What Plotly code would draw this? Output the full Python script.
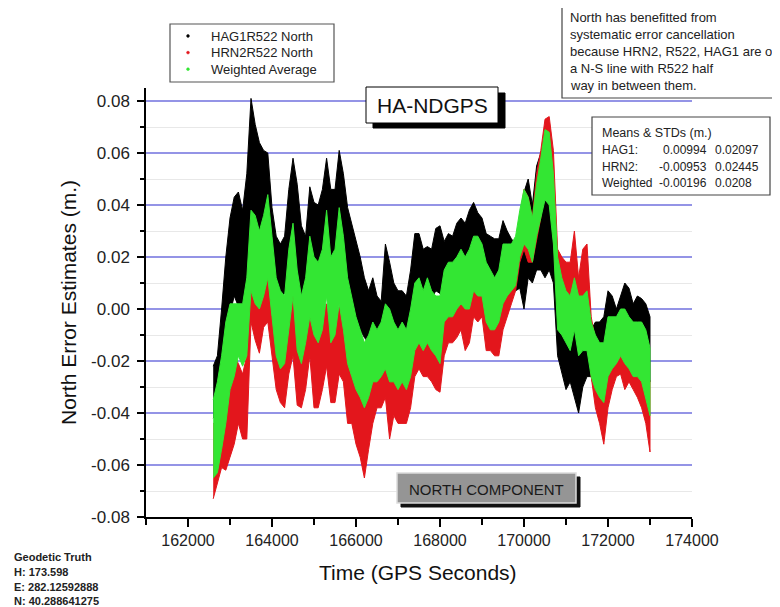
import plotly.graph_objects as go

# ---------------- data ----------------
TIMES = list(range(162600, 173100, 100))  # GPS seconds, 105 samples

HAG1_HI = [-0.022,-0.018,0.000,0.020,0.035,0.043,0.045,0.038,0.052,0.081,
           0.071,0.064,0.061,0.060,0.039,0.028,0.025,0.028,0.046,0.058,
           0.048,0.032,0.028,0.047,0.041,0.040,0.046,0.058,0.046,0.046,
           0.061,0.052,0.039,0.033,0.027,0.020,0.012,0.007,0.012,0.005,
           0.003,0.025,0.018,0.010,0.007,0.007,0.005,0.015,0.029,0.029,
           0.023,0.024,0.023,0.031,0.032,0.026,0.029,0.028,0.033,0.035,
           0.033,0.038,0.041,0.037,0.035,0.029,0.028,0.027,0.027,0.034,
           0.030,0.027,0.025,0.030,0.045,0.050,0.040,0.055,0.060,0.065,
           0.060,0.045,0.020,0.005,-0.005,-0.005,-0.003,-0.005,-0.010,-0.012,
           -0.008,-0.005,-0.005,-0.003,0.007,0.005,0.000,0.005,0.010,0.008,
           0.002,0.005,0.004,0.002,-0.003]
HAG1_LO = [-0.042,-0.040,-0.030,-0.012,-0.002,0.005,0.001,0.000,0.012,0.035,
           0.030,0.020,0.012,0.020,0.010,0.004,0.004,0.006,0.012,0.018,
           0.007,0.000,0.004,0.010,0.007,0.006,0.012,0.018,0.006,0.012,
           0.020,0.012,0.005,0.001,-0.005,-0.008,-0.011,-0.013,-0.011,-0.016,
           -0.013,-0.005,-0.008,-0.011,-0.013,-0.011,-0.011,-0.008,-0.003,0.001,
           0.002,0.002,0.004,0.007,0.006,0.004,0.007,0.009,0.012,0.012,
           0.015,0.012,0.015,0.017,0.012,0.007,0.009,0.012,0.012,0.015,
           0.012,0.012,0.007,0.008,0.000,0.012,0.010,0.015,0.015,0.012,
           0.015,0.010,-0.018,-0.025,-0.031,-0.028,-0.034,-0.040,-0.030,-0.026,
           -0.026,-0.033,-0.021,-0.019,-0.018,-0.018,-0.018,-0.013,-0.013,-0.016,
           -0.018,-0.016,-0.018,-0.021,-0.028]

HRN2_HI = [-0.044,-0.044,-0.031,-0.026,-0.018,-0.018,-0.021,-0.025,-0.018,0.023,
           0.020,0.007,0.014,0.020,0.007,-0.005,-0.012,-0.015,0.001,0.007,
           -0.005,-0.011,-0.005,0.005,0.001,0.001,-0.003,0.002,-0.008,-0.005,
           0.001,-0.005,-0.016,-0.018,-0.021,-0.026,-0.028,-0.026,-0.018,-0.022,
           -0.015,-0.010,-0.015,-0.018,-0.021,-0.018,-0.021,-0.015,-0.008,-0.005,
           -0.008,-0.008,-0.013,-0.015,-0.015,0.000,0.005,0.002,0.005,0.005,
           0.002,0.002,0.012,0.012,0.010,0.002,0.002,0.000,0.002,0.012,
           0.018,0.020,0.023,0.035,0.046,0.043,0.035,0.052,0.061,0.073,
           0.074,0.061,0.023,0.020,0.018,0.018,0.030,0.012,0.023,0.025,
           -0.003,-0.012,-0.018,-0.025,-0.018,-0.013,-0.008,-0.005,-0.013,-0.015,
           -0.015,-0.018,-0.018,-0.021,-0.028]
HRN2_LO = [-0.073,-0.067,-0.061,-0.062,-0.057,-0.052,-0.044,-0.050,-0.050,-0.005,
           -0.012,-0.017,-0.007,-0.005,-0.018,-0.031,-0.036,-0.038,-0.025,-0.018,
           -0.037,-0.038,-0.031,-0.018,-0.038,-0.038,-0.031,-0.022,-0.036,-0.036,
           -0.025,-0.028,-0.044,-0.044,-0.052,-0.057,-0.065,-0.054,-0.044,-0.038,
           -0.038,-0.034,-0.050,-0.041,-0.044,-0.044,-0.044,-0.038,-0.026,-0.023,
           -0.026,-0.026,-0.028,-0.031,-0.032,-0.018,-0.013,-0.013,-0.011,-0.008,
           -0.016,-0.013,-0.003,-0.005,-0.003,-0.016,-0.016,-0.018,-0.018,-0.008,
           -0.003,0.002,0.007,0.018,0.023,0.018,0.018,0.027,0.035,0.050,
           0.046,0.028,0.001,0.005,0.002,-0.005,0.005,-0.005,0.002,-0.005,
           -0.026,-0.038,-0.044,-0.052,-0.038,-0.031,-0.026,-0.025,-0.031,-0.028,
           -0.031,-0.034,-0.038,-0.044,-0.055]

WAVG_HI = [-0.035,-0.028,-0.018,-0.005,0.002,0.002,0.002,0.002,0.012,0.038,
           0.036,0.030,0.036,0.044,0.028,0.012,0.007,0.005,0.023,0.033,
           0.015,0.005,0.012,0.028,0.020,0.018,0.023,0.038,0.020,0.023,
           0.039,0.028,0.012,0.005,-0.003,-0.008,-0.013,-0.010,-0.005,-0.008,
           -0.005,0.002,0.000,-0.005,-0.008,-0.005,-0.008,0.000,0.010,0.012,
           0.007,0.012,0.007,0.005,0.005,0.015,0.018,0.018,0.020,0.023,
           0.020,0.023,0.028,0.028,0.025,0.018,0.015,0.012,0.015,0.025,
           0.025,0.025,0.028,0.038,0.046,0.043,0.035,0.048,0.058,0.069,
           0.068,0.052,0.020,0.012,0.007,0.005,0.012,0.005,0.005,0.007,
           -0.005,-0.010,-0.013,-0.013,-0.003,-0.003,-0.003,0.000,0.000,-0.003,
           -0.005,-0.005,-0.005,-0.008,-0.015]
WAVG_LO = [-0.065,-0.063,-0.054,-0.044,-0.031,-0.026,-0.018,-0.022,-0.018,0.007,
           0.002,0.000,0.005,0.012,-0.003,-0.018,-0.023,-0.021,-0.008,0.005,
           -0.016,-0.021,-0.013,-0.003,-0.010,-0.013,-0.008,0.005,-0.013,-0.010,
           0.002,-0.008,-0.021,-0.026,-0.031,-0.034,-0.038,-0.034,-0.028,-0.028,
           -0.026,-0.023,-0.028,-0.028,-0.031,-0.028,-0.031,-0.026,-0.016,-0.013,
           -0.016,-0.013,-0.016,-0.018,-0.021,-0.005,-0.003,-0.003,0.000,0.002,
           0.000,0.000,0.007,0.005,0.005,-0.005,-0.008,-0.008,-0.005,0.002,
           0.005,0.007,0.009,0.020,0.025,0.023,0.018,0.028,0.035,0.042,
           0.040,0.025,-0.008,-0.010,-0.013,-0.016,-0.008,-0.018,-0.016,-0.016,
           -0.026,-0.031,-0.034,-0.036,-0.026,-0.023,-0.021,-0.018,-0.021,-0.023,
           -0.026,-0.026,-0.028,-0.034,-0.041]

SERIES_NAMES = ["HAG1R522 North", "HRN2R522 North", "Weighted Average"]
SERIES_COLORS = ["#000000", "#e3161c", "#33e633"]

X_TICKS = [162000, 164000, 166000, 168000, 170000, 172000, 174000]
X_MINOR = [161000, 163000, 165000, 167000, 169000, 171000, 173000]
Y_TICKS = [-0.08, -0.06, -0.04, -0.02, 0.00, 0.02, 0.04, 0.06, 0.08]
Y_MINOR = [-0.07, -0.05, -0.03, -0.01, 0.01, 0.03, 0.05, 0.07]
Y_LABELS = ["-0.08", "-0.06", "-0.04", "-0.02", "0.00", "0.02", "0.04", "0.06", "0.08"]

NOTE_LINES = ["North has benefitted from", "systematic error cancellation",
              "because HRN2, R522, HAG1 are on", "a N-S line with R522 half",
              "way in between them."]
STATS_ROWS = [("HAG1:", "0.00994", "0.02097"),
              ("HRN2:", "-0.00953", "0.02445"),
              ("Weighted", "-0.00196", "0.0208")]
TRUTH_LINES = ["Geodetic Truth", "H: 173.598", "E: 282.12592888", "N: 40.288641275"]

# ---------------- layout helpers (page pixel -> paper) ----------------
OFF = 8                      # page body margin that shifts the figure
PAGE_W, PAGE_H = 780, 607
W, H = PAGE_W - OFF, PAGE_H - OFF
PLOT_L, PLOT_R, PLOT_T, PLOT_B = 146, 692, 88, 517   # page pixels
L, T = PLOT_L - OFF, PLOT_T - OFF
R, B = PAGE_W - PLOT_R, PAGE_H - PLOT_B
PW, PH = W - L - R, H - T - B


def PX(px):
    return (px - PLOT_L) / PW


def PY(py):
    return (PLOT_B - py) / PH


FONT = "Liberation Sans, Arial, sans-serif"

fig = go.Figure()

bands = [(HAG1_HI, HAG1_LO), (HRN2_HI, HRN2_LO), (WAVG_HI, WAVG_LO)]
for (hi, lo), name, col in zip(bands, SERIES_NAMES, SERIES_COLORS):
    fig.add_trace(go.Scatter(
        x=TIMES + TIMES[::-1], y=hi + lo[::-1], fill="toself", fillcolor=col,
        mode="lines", line=dict(color=col, width=1), name=name,
        showlegend=False, hoverinfo="skip"))

axis_common = dict(showline=True, linecolor="black", linewidth=1.5,
                   ticks="outside", tickcolor="black", tickwidth=1.5,
                   mirror=False, zeroline=False)

fig.update_xaxes(range=[161000, 174000], tickvals=X_TICKS,
                 ticktext=[str(v) for v in X_TICKS], ticklen=8, showgrid=False,
                 tickfont=dict(size=16, color="#222"),
                 minor=dict(tickvals=X_MINOR, ticks="outside", ticklen=6,
                            tickcolor="black", tickwidth=1.5, showgrid=False),
                 **axis_common)
fig.update_yaxes(range=[-0.08, 0.085], tickvals=Y_TICKS, ticktext=Y_LABELS,
                 ticklen=7, showgrid=True, gridcolor="#9494e6", gridwidth=1.5,
                 tickfont=dict(size=17, color="#222"), ticklabelstandoff=4,
                 minor=dict(tickvals=Y_MINOR, ticks="outside", ticklen=4,
                            tickcolor="black", tickwidth=1.5, showgrid=True,
                            gridcolor="#e8e8e8", gridwidth=1),
                 **axis_common)

shapes = []
annotations = []


def rect(x0, y0, x1, y1, fill="white", line="black", lw=1):
    shapes.append(dict(type="rect", xref="paper", yref="paper",
                       x0=PX(x0), x1=PX(x1), y0=PY(y1), y1=PY(y0),
                       fillcolor=fill, line=dict(color=line, width=lw),
                       layer="above"))


def dot(cx, cy, r, color):
    shapes.append(dict(type="circle", xref="paper", yref="paper",
                       x0=PX(cx - r), x1=PX(cx + r), y0=PY(cy + r), y1=PY(cy - r),
                       fillcolor=color, line=dict(color=color, width=0.5),
                       layer="above"))


def text(px, py, s, size=13, xanchor="left", yanchor="middle", color="black",
         angle=0, align="left"):
    annotations.append(dict(xref="paper", yref="paper", x=PX(px), y=PY(py),
                            text=s, showarrow=False, xanchor=xanchor,
                            yanchor=yanchor, textangle=angle, align=align,
                            font=dict(family=FONT, size=size, color=color)))


# legend box (top left)
rect(170, 24, 334, 82, line="#555", lw=1.2)
for i, (name, col) in enumerate(zip(SERIES_NAMES, SERIES_COLORS)):
    yy = 36 + i * 16.6
    dot(188, yy, 1.4, col)
    text(209, yy, name, size=13, color="#222")

# note box (top right)
rect(562, 4, 800, 98, line="#444", lw=1.2)
for i, s in enumerate(NOTE_LINES):
    text(568, 18 + i * 16.8, s, size=13, color="#222")

# means & STDs box
rect(592, 117, 770, 195, line="#444", lw=1.2)
text(600, 133, "Means &amp; STDs (m.)", size=12.5, color="#222")
for i, (a, b, c) in enumerate(STATS_ROWS):
    yy = 150 + i * 16.7
    text(600, yy, a, size=12, color="#222")
    text(709, yy, b, size=12, xanchor="right", color="#222")
    text(713, yy, c, size=12, color="#222")

# HA-NDGPS title box with shadow
rect(373, 93, 505, 128, fill="black", line="black")
rect(366, 87, 498, 123, fill="white", line="black")
text(432, 105, "HA-NDGPS", size=21, xanchor="center", color="#111")

# NORTH COMPONENT box with shadow
rect(401, 477, 580, 507, fill="#111", line="#111")
rect(397, 473, 576, 503, fill="#959595", line="#dcdcdc", lw=1.5)
text(486, 489, "NORTH COMPONENT", size=15, xanchor="center", color="#1a1a1a")

# axis titles
text(68, 303, "North Error Estimates (m.)", size=21, xanchor="center",
     angle=-90, color="#111")
text(418, 572, "Time (GPS Seconds)", size=21, xanchor="center", color="#111")

# geodetic truth
for i, s in enumerate(TRUTH_LINES):
    text(12, 557 + i * 14.8, "<b>" + s + "</b>", size=11, color="#222")

fig.update_layout(
    width=W, height=H, margin=dict(l=L, r=R, t=T, b=B, autoexpand=False),
    paper_bgcolor="white", plot_bgcolor="white",
    font=dict(family=FONT, color="#222"),
    shapes=shapes, annotations=annotations, showlegend=False,
)

fig.write_html("out.html")
